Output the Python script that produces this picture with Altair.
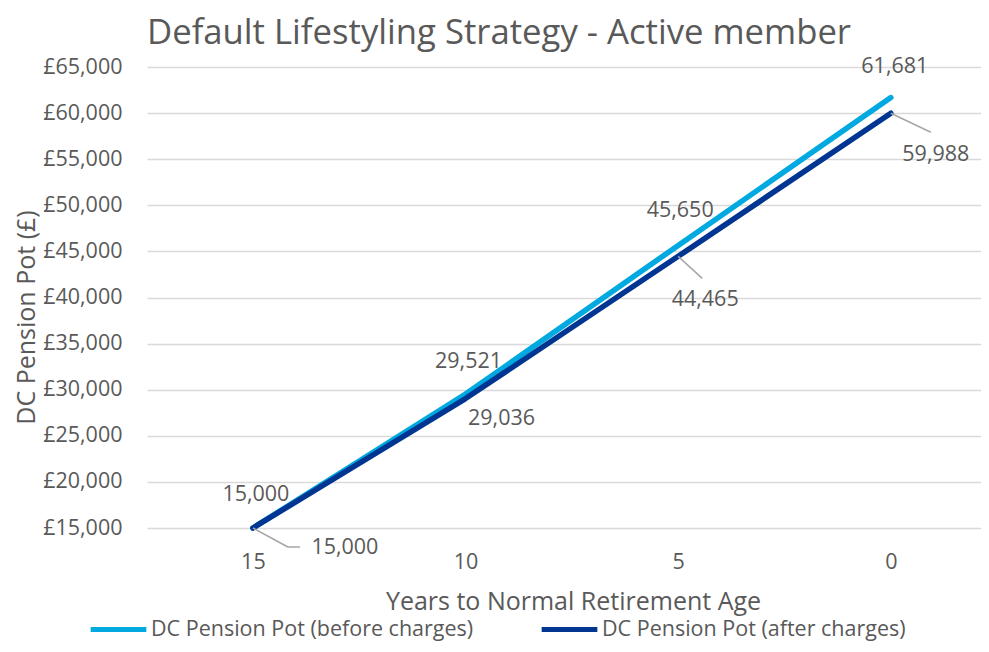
import altair as alt
import pandas as pd

# ---- data ----
years = [15, 10, 5, 0]
before_charges = [15000, 29521, 45650, 61681]
after_charges = [15000, 29036, 44465, 59988]
series_names = ["DC Pension Pot (before charges)", "DC Pension Pot (after charges)"]
y_ticks = [15000, 20000, 25000, 30000, 35000, 40000, 45000, 50000, 55000, 60000, 65000]

# ---- styling ----
FONT = "Open Sans"
GREY = "#595959"
COLORS = ["#00A9E0", "#003591"]
LEADER = "#A6A6A6"
LBL = 21.5
# label pixel offsets (dx, dy) per point, for each series
before_offsets = [(3, -33), (3, -32), (2, -34), (4, -31)]
after_offsets = [(92, 20), (36, 20), (27, 44), (45, 42)]

rows = []
for name, vals in zip(series_names, [before_charges, after_charges]):
    for yr, v in zip(years, vals):
        rows.append({"series": name, "years": yr, "value": v})
df = pd.DataFrame(rows)

x_enc = alt.X(
    "years:Q",
    scale=alt.Scale(domain=[17.49, -2.12], nice=False, zero=False),
    axis=alt.Axis(
        values=years, format="d", title="Years to Normal Retirement Age",
        titleX=426,
        grid=False, domain=False, ticks=False, tickSize=0,
        labelPadding=23, titlePadding=17,
        labelFont=FONT, labelFontSize=LBL, labelColor=GREY,
        titleFont=FONT, titleFontSize=25, titleColor=GREY, titleFontWeight="normal",
    ),
)
y_enc = alt.Y(
    "value:Q",
    scale=alt.Scale(domain=[15000, 65000], nice=False, zero=False),
    axis=alt.Axis(
        values=y_ticks, labelExpr="'£' + format(datum.value, ',')",
        title="DC Pension Pot (£)", grid=True, gridColor="#D9D9D9", gridWidth=1.5,
        domain=False, ticks=False, tickSize=0, labelPadding=25, titlePadding=3,
        titleY=250,
        labelFont=FONT, labelFontSize=LBL, labelColor=GREY,
        titleFont=FONT, titleFontSize=25, titleColor=GREY, titleFontWeight="normal",
    ),
)
color_enc = alt.Color(
    "series:N",
    scale=alt.Scale(domain=series_names, range=COLORS),
    legend=alt.Legend(
        title=None, orient="none", direction="horizontal", legendX=-59, legendY=532,
        symbolType="stroke", symbolSize=3100, symbolStrokeWidth=5,
        labelFont=FONT, labelFontSize=21.5, labelColor=GREY, labelOffset=2,
        labelLimit=0, columnPadding=57,
    ),
)

base = alt.Chart(df)
layers = []
for name in series_names:
    layers.append(
        base.transform_filter(alt.datum.series == name)
        .mark_line(strokeWidth=5.5, strokeCap="round", strokeJoin="round")
        .encode(x=x_enc, y=y_enc, color=color_enc)
    )

# leader lines for after-charge labels
leader_specs = [
    (15, 0, 0, 35, 19),
    (15, 35, 19, 47, 19),
    (5, 0, 0, 24, 22),
    (0, 0, 0, 40, 19),
]
for yr, xo, yo, x2o, y2o in leader_specs:
    layers.append(
        base.transform_filter((alt.datum.series == series_names[1]) & (alt.datum.years == yr))
        .mark_rule(color=LEADER, strokeWidth=1.5, xOffset=xo, yOffset=yo, x2Offset=x2o, y2Offset=y2o)
        .encode(x="years:Q", y="value:Q", x2="years:Q", y2="value:Q")
    )

for name, offs in zip(series_names, [before_offsets, after_offsets]):
    for yr, (dx, dy) in zip(years, offs):
        layers.append(
            base.transform_filter((alt.datum.series == name) & (alt.datum.years == yr))
            .mark_text(font=FONT, fontSize=LBL, color=GREY, dx=dx, dy=dy, align="center", baseline="middle")
            .encode(x="years:Q", y="value:Q", text=alt.Text("value:Q", format=",.0f"))
        )

chart = (
    alt.layer(*layers)
    .properties(
        width=834, height=461,
        autosize=alt.AutoSizeParams(type="none"),
        padding={"left": 139, "top": 59, "right": 0, "bottom": 116},
        title=alt.TitleParams(
            "Default Lifestyling Strategy - Active member",
            anchor="start", frame="group", font=FONT, fontSize=34.7,
            fontWeight="normal", color=GREY, offset=4,
        ),
    )
    .configure_view(stroke=None)
)

chart.save("out.html", embed_options={"renderer": "svg", "actions": False})
